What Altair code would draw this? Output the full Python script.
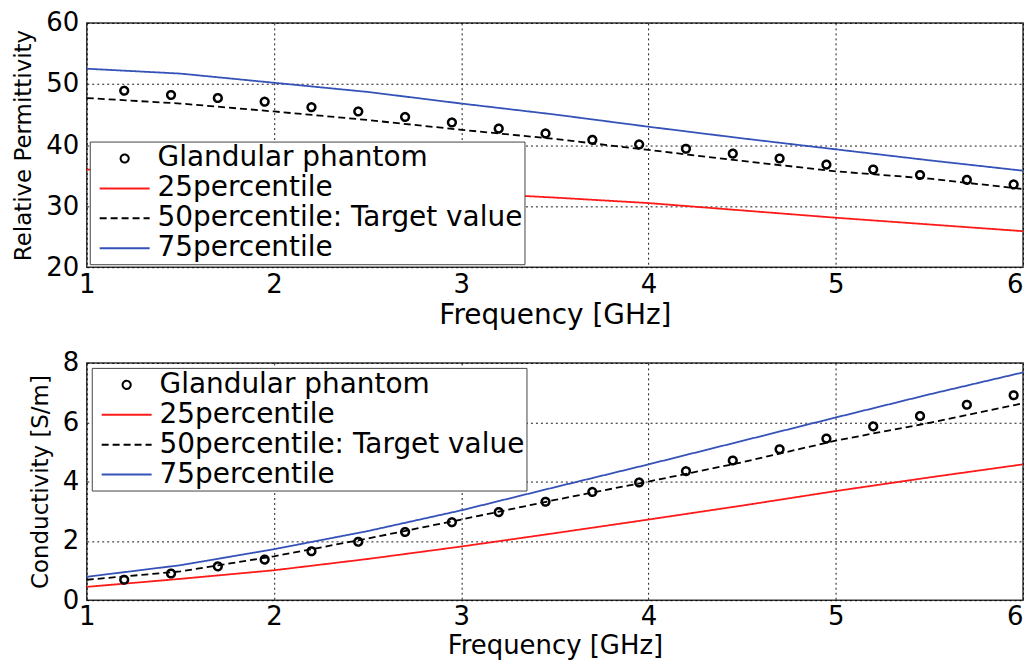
import altair as alt
import pandas as pd

# ---------------- data ----------------
series = ["Glandular phantom", "25percentile", "50percentile: Target value", "75percentile"]

freq_line = [1.0, 1.5, 2.0, 2.5, 3.0, 3.5, 4.0, 4.5, 5.0, 5.5, 6.0]
freq_pts = [1.2, 1.45, 1.7, 1.95, 2.2, 2.45, 2.7, 2.95, 3.2, 3.45,
            3.7, 3.95, 4.2, 4.45, 4.7, 4.95, 5.2, 5.45, 5.7, 5.95]

perm_p25 = [36.0, 35.0, 34.0, 33.1, 32.2, 31.4, 30.5, 29.3, 28.1, 27.0, 25.9]
perm_p50 = [47.7, 46.8, 45.5, 44.1, 42.5, 41.0, 39.2, 37.4, 35.7, 34.5, 32.8]
perm_p75 = [52.5, 51.7, 50.2, 48.7, 46.8, 45.0, 43.0, 41.1, 39.3, 37.5, 35.8]
perm_phantom = [48.9, 48.2, 47.7, 47.1, 46.2, 45.5, 44.6, 43.7, 42.7, 41.9,
                40.85, 40.1, 39.4, 38.6, 37.8, 36.8, 36.0, 35.1, 34.3, 33.55]

cond_p25 = [0.45, 0.72, 1.01, 1.39, 1.81, 2.26, 2.72, 3.19, 3.68, 4.14, 4.58]
cond_p50 = [0.69, 0.97, 1.48, 2.08, 2.72, 3.38, 4.00, 4.65, 5.38, 5.98, 6.64]
cond_p75 = [0.79, 1.18, 1.72, 2.33, 3.03, 3.81, 4.58, 5.37, 6.16, 6.94, 7.68]
cond_phantom = [0.69, 0.90, 1.14, 1.37, 1.65, 1.97, 2.30, 2.63, 2.97, 3.32,
                3.65, 3.97, 4.35, 4.71, 5.09, 5.45, 5.86, 6.21, 6.59, 6.91]

x_ticks = [1, 2, 3, 4, 5, 6]
perm_ticks = [20, 30, 40, 50, 60]
cond_ticks = [0, 2, 4, 6, 8]

# ---------------- styles ----------------
FONT = "DejaVu Sans"
colors = ["black", "#ff1a1a", "black", "#3552b8"]
dashes = [[1, 0], [1, 0], [7, 4], [1, 0]]
circle_path = "M-0.29,0A0.29,0.29 0 1,0 0.29,0A0.29,0.29 0 1,0 -0.29,0"
line_path = "M-1.79,0H1.79"
shapes = [circle_path, line_path, line_path, line_path]

W = 939


def long_lines(p25, p50, p75):
    rows = []
    for name, vals in zip(series[1:], [p25, p50, p75]):
        for f, v in zip(freq_line, vals):
            rows.append({"f": f, "v": v, "s": name})
    return pd.DataFrame(rows)


def long_pts(vals):
    return pd.DataFrame({"f": freq_pts, "v": vals, "s": [series[0]] * len(vals)})


def panel(lines_df, pts_df, ytitle, ydom, yticks, legend_orient, legend_offset,
          height, x_label_pad, x_title_pad, x_title_size):
    legend = alt.Legend(
        title=None, orient=legend_orient, offset=legend_offset,
        fillColor="white", strokeColor="#444444", padding=2,
        labelFont=FONT, labelFontSize=28, labelColor="black", labelLimit=800,
        labelOffset=18, symbolOffset=18, symbolSize=784, symbolStrokeWidth=2,
        rowPadding=1,
    )
    xenc = alt.X("f:Q", scale=alt.Scale(domain=[1, 6], nice=False),
                 axis=alt.Axis(values=x_ticks, title="Frequency [GHz]", format="d",
                               labelPadding=x_label_pad, titlePadding=x_title_pad,
                               titleFontSize=x_title_size,
                               labelAlign={"condition": {"test": "datum.value == 6", "value": "right"},
                                           "value": "center"}))
    yenc = alt.Y("v:Q", scale=alt.Scale(domain=ydom, nice=False),
                 axis=alt.Axis(values=yticks, title=ytitle, format="d"))
    color = alt.Color("s:N", scale=alt.Scale(domain=series, range=colors), legend=legend)
    dash = alt.StrokeDash("s:N", scale=alt.Scale(domain=series, range=dashes), legend=legend)
    shape = alt.Shape("s:N", scale=alt.Scale(domain=series, range=shapes), legend=legend)

    lines = alt.Chart(lines_df).mark_line(strokeWidth=1.8).encode(
        x=xenc, y=yenc, color=color, strokeDash=dash, detail="s:N"
    )
    pts = alt.Chart(pts_df).mark_point(filled=False, size=708, strokeWidth=2.5, opacity=1).encode(
        x=xenc, y=yenc, color=color, shape=shape, strokeDash=dash
    )
    return alt.layer(lines, pts).properties(width=W, height=height)


top = panel(long_lines(perm_p25, perm_p50, perm_p75), long_pts(perm_phantom),
            "Relative Permittivity", [20, 60], perm_ticks, "bottom-left", 3,
            245, 4, 4, 28)
bottom = panel(long_lines(cond_p25, cond_p50, cond_p75), long_pts(cond_phantom),
               "Conductivity [S/m]", [0, 8], cond_ticks, "top-left", 5,
               238, 3, 3, 26)

chart = (
    alt.vconcat(top, bottom, spacing=19)
    .resolve_scale(color="independent", shape="independent", strokeDash="independent")
    .resolve_legend(color="independent", shape="independent", strokeDash="independent")
    .properties(padding={"left": 4, "top": 0, "right": 0, "bottom": 0}, background="white")
    .configure_view(stroke="#333333", strokeWidth=1.5)
    .configure_axis(
        labelFont=FONT, titleFont=FONT, labelColor="black", titleColor="black",
        labelFontSize=26, titleFontWeight="normal",
        grid=True, gridColor="black", gridDash=[2, 3], gridWidth=1, gridOpacity=0.9,
        ticks=False, domain=False,
    )
    .configure_axisY(labelPadding=8, titleFontSize=23, titlePadding=10)
)

chart.save("out.html", embed_options={"renderer": "svg", "actions": False})
